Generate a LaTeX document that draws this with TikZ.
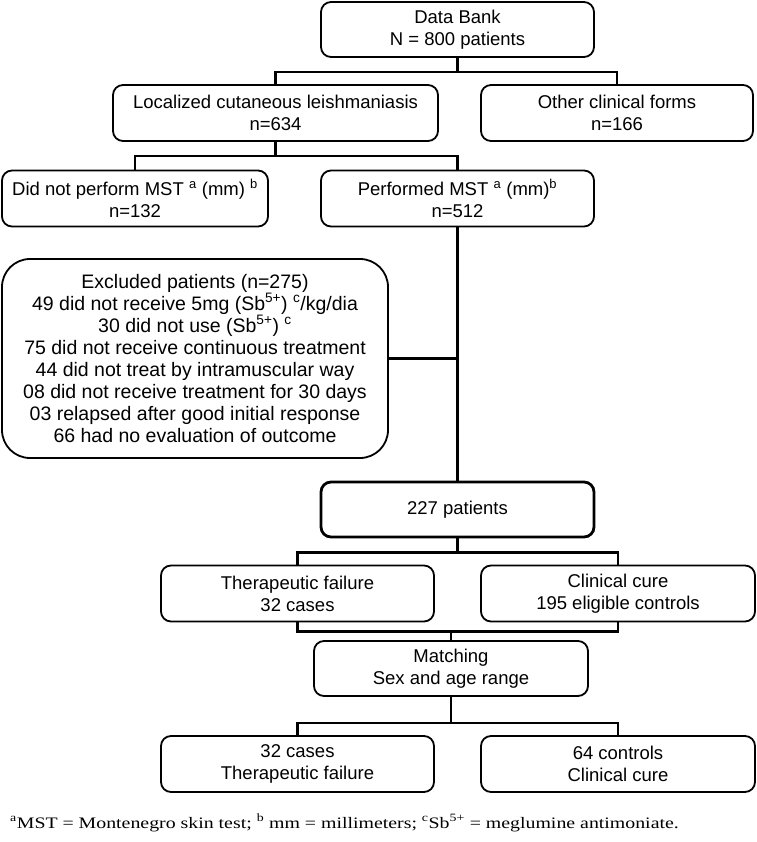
\documentclass[tikz,border=0pt]{standalone}
\usepackage{fontspec}
\setmainfont{Liberation Sans}
\newfontfamily\notefont[FakeStretch=1.24]{Liberation Serif}
\begin{document}
\begin{tikzpicture}[x=1pt,y=-1pt,
        box/.style={draw, rounded corners=10, line width=1.8, align=center, inner sep=0,
                minimum height=56, font=\fontsize{18.5}{22}\selectfont},
        link/.style={line width=2.2}]
        \useasboundingbox (0,0) rectangle (756,842);
        \node[box, minimum width=273, minimum height=55] (bank) at (457.5,29.5) {Data Bank\\N = 800 patients};
        \node[box, minimum width=325] (lcl) at (275.5,113) {Localized cutaneous leishmaniasis\\n=634};
        \node[box, minimum width=272] (other) at (617,113) {Other clinical forms\\n=166};
        \node[box, minimum width=266] (nomst) at (135,198.5) {Did not perform MST \textsuperscript{a} (mm) \textsuperscript{b}\\n=132};
        \node[box, minimum width=273] (mst) at (457.5,198.5) {Performed MST \textsuperscript{a} (mm)\textsuperscript{b}\\n=512};
        \node[box, rounded corners=28, minimum width=386, minimum height=199,
                font=\fontsize{19.5}{22.1}\selectfont] (excl) at (195,358.5) {Excluded patients (n=275)\\
                49 did not receive 5mg (Sb\textsuperscript{5+}) \textsuperscript{c}/kg/dia\\
                30 did not use (Sb\textsuperscript{5+}) \textsuperscript{c}\\
                75 did not receive continuous treatment\\
                44 did not treat by intramuscular way\\
                08 did not receive treatment for 30 days\\
                03 relapsed after good initial response\\
                66 had no evaluation of outcome};
        \node[box, line width=2.8, minimum width=273, minimum height=55] (total) at (457.5,509.5) {227 patients};
        \node[box, minimum width=273] (fail) at (297.5,593.5) {Therapeutic failure\\32 cases};
        \node[box, minimum width=274] (cure) at (618,593.5) {Clinical cure\\195 eligible controls};
        \node[box, minimum width=274, minimum height=55] (match) at (451,668.5) {Matching\\Sex and age range};
        \node[box, minimum width=273] (cases) at (297.5,764) {32 cases\\Therapeutic failure};
        \node[box, minimum width=274] (controls) at (618,764) {64 controls\\Clinical cure};
        \node[anchor=base west, inner sep=0, font=\notefont\fontsize{16}{18}\selectfont] (note) at (10,828)
                {\textsuperscript{a}MST = Montenegro skin test; \textsuperscript{b} mm = millimeters; \textsuperscript{c}Sb\textsuperscript{5+} = meglumine antimoniate.};

        \draw[link] (bank.south) -- ++(0,14) coordinate (split1);
        \draw[link] (lcl.north) |- (split1) -| (other.north);
        \draw[link] (lcl.south) -- ++(0,14) coordinate (split2);
        \draw[link] (nomst.north) |- (split2) -| (mst.north);
        \draw[link] (mst.south) -- (total.north);
        \draw[link] (excl.east) -- (excl.east -| mst.south);
        \draw[link] (total.south) -- ++(0,14) coordinate (split3);
        \draw[link] (fail.north) |- (split3) -| (cure.north);
        \draw[link] (fail.south) -- ++(0,9) coordinate (join) -| (cure.south);
        \draw[link] (match.north) -- (match.north |- join);
        \draw[link] (match.south) -- ++(0,26) coordinate (split4);
        \draw[link] (cases.north) |- (split4) -| (controls.north);
        \end{tikzpicture}
\end{document}
